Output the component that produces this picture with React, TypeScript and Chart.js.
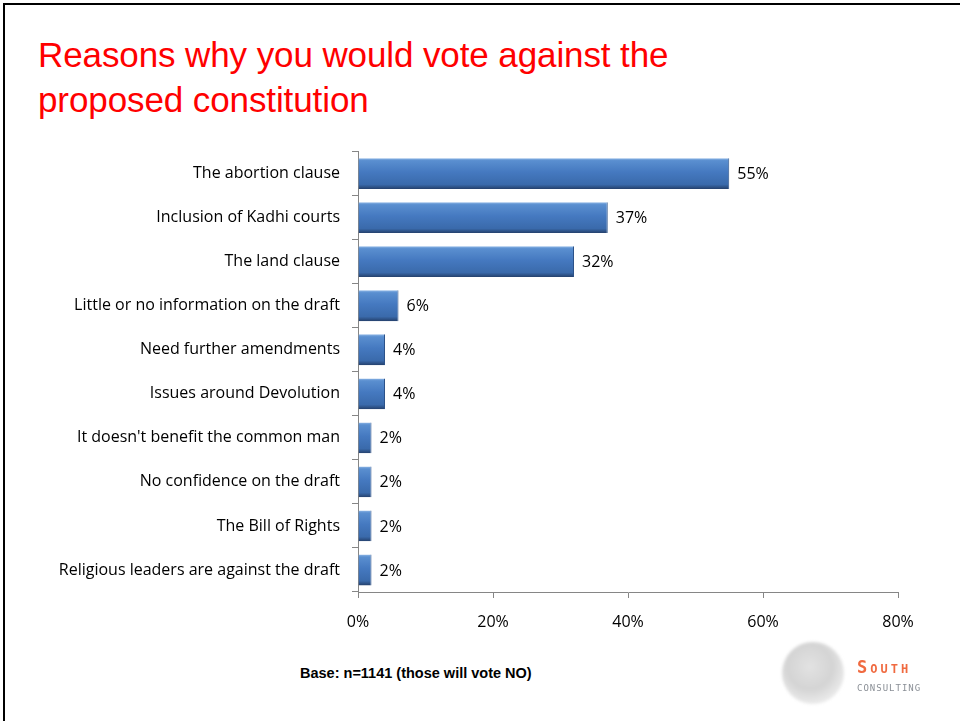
import React, { useEffect, useRef } from "react";
import { Chart, registerables } from "chart.js";

Chart.register(...registerables);

const categories = [
  "The abortion clause",
  "Inclusion of Kadhi courts",
  "The land clause",
  "Little or no information on the draft",
  "Need further amendments",
  "Issues around Devolution",
  "It doesn't benefit the common man",
  "No confidence on the draft",
  "The Bill of Rights",
  "Religious leaders are against the draft",
];
const values = [55, 37, 32, 6, 4, 4, 2, 2, 2, 2];
const xTicks = [0, 20, 40, 60, 80];

const titleLines = ["Reasons why you would vote against the", "proposed constitution"];
const footnote = "Base: n=1141 (those will vote NO)";

const labelFont = "'Open Sans', 'Noto Sans', sans-serif";

const valueLabels = {
  id: "valueLabels",
  afterDatasetsDraw(chart: any) {
    const ctx = chart.ctx;
    const meta = chart.getDatasetMeta(0);
    ctx.save();
    ctx.font = `16px ${labelFont}`;
    ctx.fillStyle = "#000";
    ctx.textAlign = "left";
    ctx.textBaseline = "middle";
    meta.data.forEach((bar: any, i: number) => {
      ctx.fillText(values[i] + "%", bar.x + 8, bar.y + 1);
    });
    ctx.restore();
  },
};

export default function App() {
  const ref = useRef<HTMLCanvasElement>(null);
  useEffect(() => {
    if (!ref.current) return;
    const chart = new Chart(ref.current, {
      type: "bar",
      data: {
        labels: categories,
        datasets: [
          {
            data: values,
            backgroundColor: (c: any) => {
              const ch = c.chart;
              const ys = ch.scales && ch.scales.y;
              if (!ch.chartArea || !ys || c.dataIndex === undefined) return "#4279c0";
              const yc = ys.getPixelForValue(c.dataIndex);
              const g = ch.ctx.createLinearGradient(0, yc - 15.5, 0, yc + 15.5);
              g.addColorStop(0, "#8fb7e6");
              g.addColorStop(0.08, "#5a8fd0");
              g.addColorStop(0.45, "#4579c0");
              g.addColorStop(0.85, "#3a6aab");
              g.addColorStop(1, "#243f6a");
              return g;
            },
            borderColor: "#2c5289",
            borderWidth: { right: 1, top: 0, bottom: 0, left: 0 },
            borderSkipped: "left",
            barPercentage: 0.7,
            categoryPercentage: 1,
          },
        ],
      },
      options: {
        indexAxis: "y",
        animation: false,
        responsive: false,
        devicePixelRatio: 1,
        layout: { padding: { top: 0, right: 62, left: 0, bottom: 0 } },
        plugins: {
          legend: { display: false },
          tooltip: { enabled: false },
          title: { display: false },
        },
        scales: {
          x: {
            type: "linear",
            min: 0,
            max: 80,
            afterBuildTicks: (s: any) => {
              s.ticks = xTicks.map((v) => ({ value: v }));
            },
            afterFit: (s: any) => {
              s.height = 48;
            },
            ticks: {
              callback: (v: any) => v + "%",
              color: "#000",
              font: { family: labelFont, size: 16 },
              padding: 15,
            },
            grid: {
              drawOnChartArea: false,
              drawTicks: true,
              tickLength: 6,
              color: "#868686",
            },
            border: { color: "#868686", width: 1 },
          },
          y: {
            type: "category",
            afterFit: (s: any) => {
              s.width = 358;
            },
            ticks: {
              color: "#000",
              font: { family: labelFont, size: 16 },
              padding: 12,
              autoSkip: false,
            },
            grid: {
              offset: true,
              drawOnChartArea: false,
              drawTicks: true,
              tickLength: 6,
              color: "#868686",
            },
            border: { color: "#868686", width: 1 },
          },
        },
      },
      plugins: [valueLabels],
    } as any);
    return () => chart.destroy();
  }, []);

  return (
    <div
      style={{
        position: "fixed",
        left: 0,
        top: 0,
        width: 960,
        height: 721,
        background: "#fff",
        overflow: "hidden",
      }}
    >
      <div
        style={{
          position: "absolute",
          left: 3,
          top: 3,
          width: 970,
          height: 716,
          borderTop: "2px solid #000",
          borderLeft: "2px solid #000",
          borderBottom: "2px solid #7f7f7f",
        }}
      />
      <div
        style={{
          position: "absolute",
          left: 38,
          top: 32,
          color: "#ff0000",
          fontFamily: "'Liberation Sans', Arial, sans-serif",
          fontSize: 35,
          lineHeight: "45px",
          whiteSpace: "nowrap",
          letterSpacing: -0.1,
        }}
      >
        {titleLines.map((t, i) => (
          <div key={i}>{t}</div>
        ))}
      </div>
      <canvas
        ref={ref}
        width={960}
        height={510}
        style={{ position: "absolute", left: 0, top: 130, width: 960, height: 510 }}
      />
      <div
        style={{
          position: "absolute",
          left: 300,
          top: 665,
          fontFamily: "'Liberation Sans Narrow', 'Arial Narrow', sans-serif",
          fontWeight: "bold",
          fontSize: 14.5,
          lineHeight: "16px",
          color: "#000",
          whiteSpace: "nowrap",
        }}
      >
        {footnote}
      </div>
      <div
        style={{
          position: "absolute",
          left: 782,
          top: 642,
          width: 62,
          height: 62,
          borderRadius: "50%",
          background:
            "radial-gradient(circle at 45% 40%, #e2e2e2 0%, #d4d4d4 45%, #ececec 75%, rgba(255,255,255,0) 100%)",
          filter: "blur(1.5px)",
        }}
      />
      <div
        style={{
          position: "absolute",
          left: 857,
          top: 657,
          width: 74,
          overflow: "hidden",
          whiteSpace: "nowrap",
          fontFamily: "'DejaVu Sans Mono', monospace",
          filter: "blur(0.6px)",
        }}
      >
        <div style={{ color: "#f06a40", fontSize: 17, fontWeight: "bold", letterSpacing: 3, lineHeight: "20px" }}>
          S<span style={{ fontSize: 12 }}>OUTH</span>
        </div>
        <div style={{ color: "#8a8f96", fontSize: 9, letterSpacing: 1, lineHeight: "12px", marginTop: 3 }}>
          CONSULTING
        </div>
      </div>
    </div>
  );
}
